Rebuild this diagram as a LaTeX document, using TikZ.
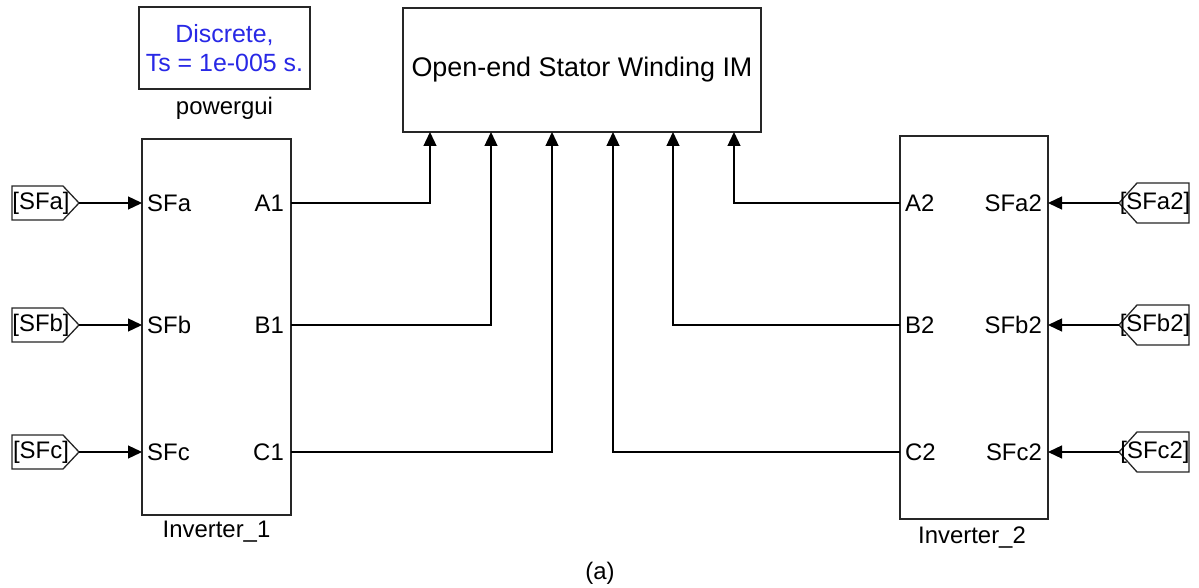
\documentclass[tikz,border=0pt]{standalone}
\usepackage{fontspec}
\setmainfont{Liberation Sans}
\usetikzlibrary{arrows.meta}
\definecolor{pgblue}{RGB}{40,40,230}
\begin{document}
\begin{tikzpicture}[x=1bp,y=-1bp,
 blk/.style={draw=black!85, line width=1.6bp, fill=white, inner sep=0pt, outer sep=0pt},
 wire/.style={draw=black, line width=1.3bp},
 arr/.style={wire, -{Triangle[length=14bp,width=13bp]}},
 lbl/.style={font=\fontsize{24}{28}\selectfont, text=black, inner sep=0pt},
 tagshape/.style={draw=black!85, line width=1.3bp, fill=white},
]
\useasboundingbox (0,0) rectangle (1199,588);

% blocks
\node[blk, minimum width=171bp, minimum height=82bp, align=center,
      font=\fontsize{25}{29}\selectfont, text=pgblue] (pg) at (224.5,48) {Discrete,\\Ts = 1e-005 s.};
\node[lbl] (pglbl) at (224.5,108) {powergui};

\node[blk, minimum width=358bp, minimum height=124bp,
      font=\fontsize{27}{30}\selectfont] (motor) at (582,70) {Open-end Stator Winding IM};

\node[blk, minimum width=149bp, minimum height=376bp] (inv1) at (216.5,327) {};
\node[lbl] (inv1lbl) at (216.5,532) {Inverter\_1};

\node[blk, minimum width=148bp, minimum height=383bp] (inv2) at (974,327.5) {};
\node[lbl] (inv2lbl) at (972,538) {Inverter\_2};

\node[lbl] (cap) at (600,573) {(a)};

% ports of inverter 1
\foreach \n/\y/\o in {a/203/A1, b/325/B1, c/452/C1}{
  \coordinate (i1\n) at (142,\y);
  \coordinate (o1\n) at (291,\y);
  \node[lbl, anchor=west] (l1\n) at (147,\y) {SF\n};
  \node[lbl, anchor=east] (r1\n) at (284,\y) {\o};
}
% ports of inverter 2
\foreach \n/\y/\o in {a/203/A2, b/325/B2, c/452/C2}{
  \coordinate (o2\n) at (900,\y);
  \coordinate (i2\n) at (1048,\y);
  \node[lbl, anchor=west] (l2\n) at (905,\y) {\o};
  \node[lbl, anchor=east] (r2\n) at (1042,\y) {SF\n2};
}

% motor input ports
\coordinate (m1) at (430,132);
\coordinate (m2) at (491,132);
\coordinate (m3) at (552,132);
\coordinate (m4) at (613,132);
\coordinate (m5) at (673,132);
\coordinate (m6) at (734,132);

% left From tags
\foreach \n/\y in {a/203, b/325, c/452}{
  \draw[tagshape] (12,\y-17) -- (63,\y-17) -- (79,\y) -- (63,\y+17) -- (12,\y+17) -- cycle;
  \coordinate (tl\n) at (79,\y);
  \node[lbl] (ftl\n) at (41,\y) {[SF\n]};
}
% right From tags
\foreach \n/\y in {a/203, b/325, c/452}{
  \draw[tagshape] (1119,\y) -- (1137,\y-20) -- (1189,\y-20) -- (1189,\y+20) -- (1137,\y+20) -- cycle;
  \coordinate (tr\n) at (1119,\y);
  \node[lbl] (ftr\n) at (1155,\y) {[SF\n2]};
}

% signal lines
\foreach \n in {a,b,c}{
  \draw[arr] (tl\n) -- (i1\n);
  \draw[arr] (tr\n) -- (i2\n);
}
\draw[arr] (o1a) -| (m1);
\draw[arr] (o1b) -| (m2);
\draw[arr] (o1c) -| (m3);
\draw[arr] (o2c) -| (m4);
\draw[arr] (o2b) -| (m5);
\draw[arr] (o2a) -| (m6);
\end{tikzpicture}
\end{document}
